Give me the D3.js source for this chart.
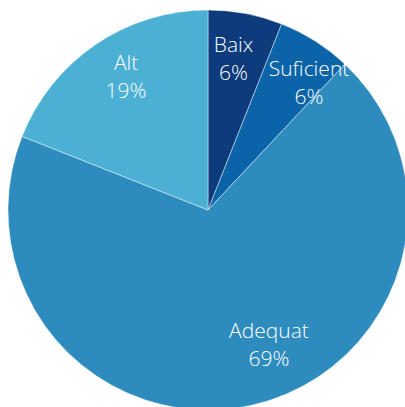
<!DOCTYPE html>
<html>
<head>
<meta charset="utf-8">
<script src="https://cdn.jsdelivr.net/npm/d3@7"></script>
<style>
  html, body { margin: 0; padding: 0; background: #fff; }
  svg { display: block; }
</style>
</head>
<body>
<svg id="chart" width="405" height="407"></svg>
<script>
// Nivell assolit: share of each category (percent)
const categories = ["Baix", "Suficient", "Adequat", "Alt"];
const values = [6, 6, 69, 19];
const colors = ["#0d3b7b", "#0b64a8", "#2d8bbe", "#4bb0d3"];

const W = 405, H = 407;
const cx = 208, cy = 210, R = 200;

const svg = d3.select("#chart");
const g = svg.append("g").attr("transform", `translate(${cx},${cy})`);

const data = categories.map((c, i) => ({ name: c, value: values[i], color: colors[i] }));

const pie = d3.pie().value(d => d.value).sort(null);
const arc = d3.arc().innerRadius(0).outerRadius(R);
const arcs = pie(data);

g.selectAll("path.slice")
  .data(arcs)
  .enter().append("path")
  .attr("class", "slice")
  .attr("d", arc)
  .attr("fill", d => d.data.color)
  .attr("stroke", "rgba(255,255,255,0.55)")
  .attr("stroke-width", 0.8);

// label placement: radius along the slice's mid-angle, with small nudges per slice
const labelRadius = 152;
const nudge = { "Baix": [-3, 5.3], "Suficient": [19.6, 7.9], "Adequat": [27.8, -6.3], "Alt": [3.5, 0.2] };
const lineGap = 28;

const total = d3.sum(values);
const fmt = v => Math.round(v / total * 100) + "%";

arcs.forEach(a => {
  const mid = (a.startAngle + a.endAngle) / 2;
  const n = nudge[a.data.name] || [0, 0];
  const x = Math.sin(mid) * labelRadius + n[0];
  const y = -Math.cos(mid) * labelRadius + n[1];
  const t = g.append("text")
    .attr("text-anchor", "middle")
    .attr("fill", "#ffffff")
    .attr("font-family", "'Open Sans', Lato, sans-serif")
    .attr("font-weight", 300)
    .attr("font-size", 21);
  t.append("tspan").attr("x", x).attr("y", y - lineGap / 2).text(a.data.name);
  t.append("tspan").attr("x", x).attr("y", y + lineGap / 2).text(fmt(a.data.value));
});
</script>
</body>
</html>
